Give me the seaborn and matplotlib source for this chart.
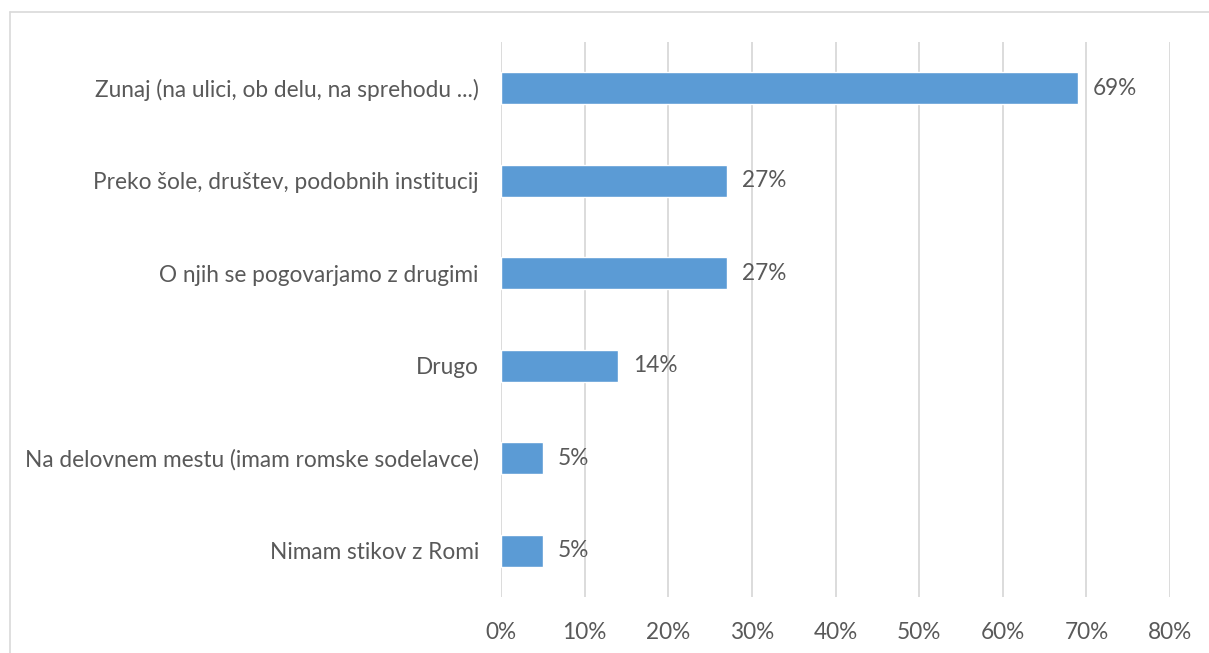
import pandas as pd
import matplotlib
matplotlib.use("Agg")
import matplotlib.pyplot as plt
from matplotlib.lines import Line2D
import seaborn as sns

categories = ["Zunaj (na ulici, ob delu, na sprehodu ...)",
              "Preko šole, društev, podobnih institucij",
              "O njih se pogovarjamo z drugimi",
              "Drugo",
              "Na delovnem mestu (imam romske sodelavce)",
              "Nimam stikov z Romi"]
values = [69, 27, 27, 14, 5, 5]
ticks = [0, 10, 20, 30, 40, 50, 60, 70, 80]

df = pd.DataFrame({"cat": categories, "val": values})

sns.set_theme(style="white")
plt.rcParams['font.family'] = ['Lato', 'DejaVu Sans']
txt = "#595959"
fs = 16.3

fig = plt.figure(figsize=(12.09, 6.53), dpi=100)
ax = fig.add_axes([501 / 1209, 56 / 653, 669 / 1209, 555 / 653])

sns.barplot(data=df, x="val", y="cat", color="#5B9BD5", saturation=1,
            width=0.35, ax=ax, zorder=3)

ax.set_xlim(0, 80)
ax.set_xticks(ticks)
ax.set_xticklabels([f"{t}%" for t in ticks], fontsize=fs, color=txt)
ax.tick_params(axis="y", labelsize=fs, labelcolor=txt, length=0, pad=16)
ax.tick_params(axis="x", length=0, pad=18)
ax.set_xlabel("")
ax.set_ylabel("")
ax.xaxis.grid(True, color="#D9D9D9", linewidth=1.3, zorder=0)
for s in ax.spines.values():
    s.set_visible(False)

for i, v in enumerate(values):
    ax.text(v + 1.8, i, f"{v}%", va="center", ha="left", fontsize=fs, color=txt)

# outer frame (top and left only visible)
fig.add_artist(Line2D([10 / 1209, 1], [1 - 12 / 653, 1 - 12 / 653],
                      transform=fig.transFigure, color="#D9D9D9", linewidth=1.2))
fig.add_artist(Line2D([10 / 1209, 10 / 1209], [0, 1 - 12 / 653],
                      transform=fig.transFigure, color="#D9D9D9", linewidth=1.2))

fig.savefig("out.png", dpi=100)
